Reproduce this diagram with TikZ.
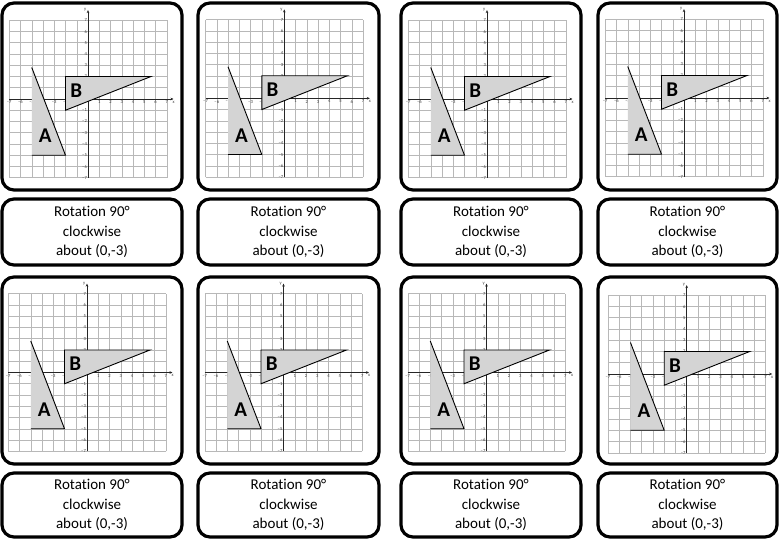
\documentclass[tikz,border=0pt]{standalone}
\usepackage{fontspec}
\setmainfont{Carlito}[Ligatures={NoCommon}]
\usetikzlibrary{arrows.meta}
\newcommand{\captxt}{Rotat\kern0pt ion 90°\\clockwise\\about (0,-3)}
\tikzset{
  card/.style={draw=black, line width=3.2pt, rounded corners=12pt, fill=white, inner sep=0pt},
  textcard/.style={card, align=center, font=\fontsize{15}{19.5}\selectfont},
  gridline/.style={draw=black!28, line width=0.5pt},
  axisline/.style={draw=black!85, line width=0.8pt, -{Stealth[length=3pt,width=2.6pt]}},
  tick/.style={font=\fontsize{4.6}{5}\selectfont, text=black!75, inner sep=0.4pt},
  triface/.style={fill=black!17, draw=none},
  triedge/.style={draw=black, line width=0.9pt, line join=miter},
  letter/.style={font=\fontsize{21}{21}\selectfont\bfseries, inner sep=0pt},
}
\newcommand{\gridpic}[3]{%
\begin{scope}[shift={(#2pt,-#3pt)}, x=11.25pt, y=11.25pt]
  \foreach \i in {-7,...,7} {
    \draw[gridline] (\i,-7) -- (\i,7);
    \draw[gridline] (-7,\i) -- (7,\i);
  }
  \draw[axisline] (-7,0) -- (7.6,0);
  \draw[axisline] (0,-7) -- (0,7.9);
  \foreach \i in {1,...,7} {
    \node[tick, anchor=north] (#1xp\i) at (\i,-0.1) {\i};
    \node[tick, anchor=east] (#1ym\i) at (-0.05,-\i) {–\i};
  }
  \foreach \i in {2,3,5,6,7} {
    \node[tick, anchor=north] (#1xm\i) at (-\i,-0.1) {–\i};
    \node[tick, anchor=east] (#1yp\i) at (-0.05,\i) {\i};
  }
  \node[tick, anchor=east] (#1yp4) at (-0.05,4) {4};
  \node[tick, anchor=north] (#1xl) at (7.6,-0.15) {x};
  \node[tick, anchor=east] (#1yl) at (-0.1,7.9) {y};
  \fill[triface] (-5,2.8) -- (-5,-5) -- (-2,-5) -- cycle;
  \draw[triedge] (-5,2.8) -- (-2,-5) -- (-5,-5);
  \fill[triface] (-2,2) -- (-2,-1) -- (5.6,2) -- cycle;
  \draw[triedge] (-2,2) -- (-2,-1) -- (5.6,2) -- cycle;
  \node[letter] (#1A) at (-3.8,-3.3) {A};
  \node[letter] (#1B) at (-1.05,0.75) {B};
\end{scope}}
\begin{document}
\begin{tikzpicture}[x=1pt, y=-1pt]
  \useasboundingbox (0,0) rectangle (780,540);
  % row 1 graph cards
  \node[card, minimum width=180pt, minimum height=187pt] (g1) at (92,96.5) {};
  \node[card, minimum width=181pt, minimum height=187pt] (g2) at (288.5,96.5) {};
  \node[card, minimum width=180pt, minimum height=187pt] (g3) at (491,96.5) {};
  \node[card, minimum width=179pt, minimum height=187pt] (g4) at (687.5,96.5) {};
  % row 2 graph cards
  \node[card, minimum width=180pt, minimum height=187pt] (g5) at (92,370.5) {};
  \node[card, minimum width=181pt, minimum height=187pt] (g6) at (288.5,370.5) {};
  \node[card, minimum width=180pt, minimum height=187pt] (g7) at (491,370.5) {};
  \node[card, minimum width=179pt, minimum height=187pt] (g8) at (687.5,370.5) {};
  % grids
  \gridpic{p1}{88}{99}
  \gridpic{p2}{284.3}{98.3}
  \gridpic{p3}{487}{99}
  \gridpic{p4}{684}{98}
  \gridpic{p5}{87}{372.5}
  \gridpic{p6}{283.5}{372.5}
  \gridpic{p7}{486.5}{372.5}
  \gridpic{p8}{686.7}{374}
  % text cards
  \node[textcard, minimum width=180pt, minimum height=66pt] (t1) at (92,232) {\captxt};
  \node[textcard, minimum width=181pt, minimum height=66pt] (t2) at (288.5,232) {\captxt};
  \node[textcard, minimum width=180pt, minimum height=66pt] (t3) at (491,232) {\captxt};
  \node[textcard, minimum width=179pt, minimum height=66pt] (t4) at (687.5,232) {\captxt};
  \node[textcard, minimum width=180pt, minimum height=64pt] (t5) at (92,505) {\captxt};
  \node[textcard, minimum width=181pt, minimum height=64pt] (t6) at (288.5,505) {\captxt};
  \node[textcard, minimum width=180pt, minimum height=64pt] (t7) at (491,505) {\captxt};
  \node[textcard, minimum width=179pt, minimum height=64pt] (t8) at (687.5,505) {\captxt};
\end{tikzpicture}
\end{document}
